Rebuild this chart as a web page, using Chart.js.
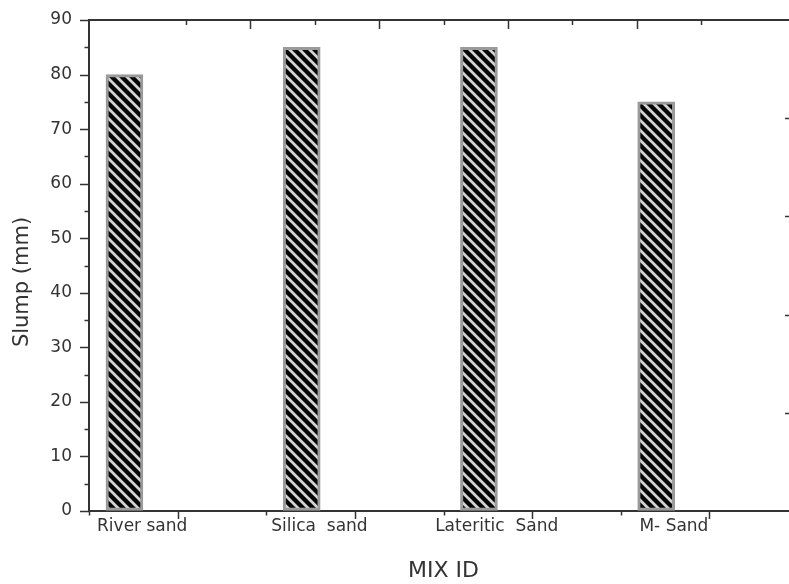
<!DOCTYPE html>
<html><head><meta charset="utf-8">
<script src="https://cdn.jsdelivr.net/npm/chart.js@4.4.0/dist/chart.umd.min.js"></script>
<style>html,body{margin:0;padding:0;background:#fff;overflow:hidden;} canvas{display:block;}</style>
</head><body>
<canvas id="c" width="798" height="584"></canvas>
<script>
// ---- data ----
const categories = ['River sand', 'Silica  sand', 'Lateritic  Sand', 'M- Sand'];
const slump = [80, 85, 85, 75];
const yTickValues = [0, 10, 20, 30, 40, 50, 60, 70, 80, 90];
const xTitle = 'MIX ID';
const yTitle = 'Slump (mm)';

// ---- layout helpers (positions on the numeric x axis) ----
const BAR_POS = i => 0.4 + 2 * i;
const LABEL_POS = i => 0.6 + 2 * i;

const FONT = '"DejaVu Sans", sans-serif';
const AXIS = '#333';

function hatchPattern(ctx) {
  const s = 10, c = document.createElement('canvas');
  c.width = s; c.height = s;
  const g = c.getContext('2d');
  g.fillStyle = '#050505'; g.fillRect(0, 0, s, s);
  g.strokeStyle = '#d4d4d4'; g.lineWidth = 2.8;
  g.beginPath();
  g.moveTo(-2, -2); g.lineTo(s + 2, s + 2);
  g.moveTo(-2, s - 2); g.lineTo(2, s + 2);
  g.moveTo(s - 2, -2); g.lineTo(s + 2, 2);
  g.stroke();
  return ctx.createPattern(c, 'repeat');
}

const axisMarks = {
  id: 'axisMarks',
  afterDraw(chart) {
    const { ctx, chartArea: a, scales } = chart;
    ctx.save();
    ctx.strokeStyle = AXIS; ctx.lineWidth = 1.5;
    const line = (x1, y1, x2, y2) => { ctx.beginPath(); ctx.moveTo(x1, y1); ctx.lineTo(x2, y2); ctx.stroke(); };
    const yMax = yTickValues[yTickValues.length - 1];
    for (let v = 0; v <= yMax; v += 5) {
      const y = Math.round(scales.y.getPixelForValue(v)) + 0.5;
      line(a.left - (v % 10 === 0 ? 9 : 4.5), y, a.left, y);
    }
    for (let v = 0; v <= 8; v++) {
      const x = Math.round(scales.x.getPixelForValue(v)) + 0.5;
      line(x, a.bottom, x, a.bottom + (v % 2 ? 8 : 4.5));
    }
    for (let v = 1; v < 10; v++) {
      const x = Math.round(scales.xTop.getPixelForValue(v)) + 0.5;
      line(x, a.top, x, a.top + (v % 2 ? 5 : 9));
    }
    for (let v = 1; v < 10; v++) {
      const y = Math.round(scales.yRight.getPixelForValue(v)) + 0.5;
      line(a.right - (v % 2 ? 8 : 13), y, a.right, y);
    }
    // y axis title
    ctx.fillStyle = AXIS;
    ctx.font = '21px ' + FONT;
    ctx.textAlign = 'center'; ctx.textBaseline = 'middle';
    ctx.translate(23, 282); ctx.rotate(-Math.PI / 2);
    ctx.fillText(yTitle, 0, 0);
    ctx.restore();
  }
};

const canvas = document.getElementById('c');
const ctx = canvas.getContext('2d');

new Chart(ctx, {
  type: 'bar',
  data: {
    datasets: [{
      data: categories.map((c, i) => ({ x: BAR_POS(i), y: slump[i] })),
      backgroundColor: hatchPattern(ctx),
      borderColor: '#9a9a9a',
      borderWidth: 3,
      borderSkipped: false,
      barThickness: 37,
      xAxisID: 'x', yAxisID: 'y'
    }]
  },
  options: {
    responsive: false,
    animation: false,
    events: [],
    layout: { padding: { top: 20, left: 0, right: 0, bottom: 0 } },
    plugins: { legend: { display: false }, tooltip: { enabled: false } },
    scales: {
      x: {
        type: 'linear', position: 'bottom', min: 0, max: 8, offset: false,
        grid: { display: true, drawOnChartArea: false, drawTicks: false, color: 'transparent', offset: false },
        border: { display: true, color: AXIS, width: 2 },
        ticks: {
          autoSkip: false, maxRotation: 0, minRotation: 0, padding: 5,
          color: AXIS, font: { family: FONT, size: 17 },
          callback: (v, i) => categories[i]
        },
        afterBuildTicks: s => { s.ticks = categories.map((c, i) => ({ value: LABEL_POS(i) })); },
        afterFit: s => { s.height = 73; },
        title: { display: true, text: xTitle, color: AXIS, font: { family: FONT, size: 22 }, padding: { top: 0, bottom: 0 } }
      },
      y: {
        type: 'linear', position: 'left', min: 0, max: 90,
        grid: { display: true, drawOnChartArea: false, drawTicks: true, tickLength: 9, color: 'transparent' },
        border: { display: true, color: AXIS, width: 2 },
        ticks: {
          padding: 8, color: AXIS, font: { family: FONT, size: 17 },
          callback: v => v
        },
        afterBuildTicks: s => { s.ticks = yTickValues.map(v => ({ value: v })); },
        afterFit: s => { s.width = 89; }
      },
      xTop: {
        type: 'linear', position: 'top', min: 0, max: 10,
        grid: { display: true, drawOnChartArea: false, drawTicks: false, color: 'transparent' },
        border: { display: true, color: AXIS, width: 2 },
        ticks: { display: false },
        afterFit: s => { s.height = 0; }
      },
      yRight: {
        type: 'linear', position: 'right', min: 0, max: 10,
        grid: { display: true, drawOnChartArea: false, drawTicks: false, color: 'transparent' },
        border: { display: true, color: AXIS, width: 2 },
        ticks: { display: false },
        afterFit: s => { s.width = 0; }
      }
    }
  },
  plugins: [axisMarks]
});
</script>
</body></html>
